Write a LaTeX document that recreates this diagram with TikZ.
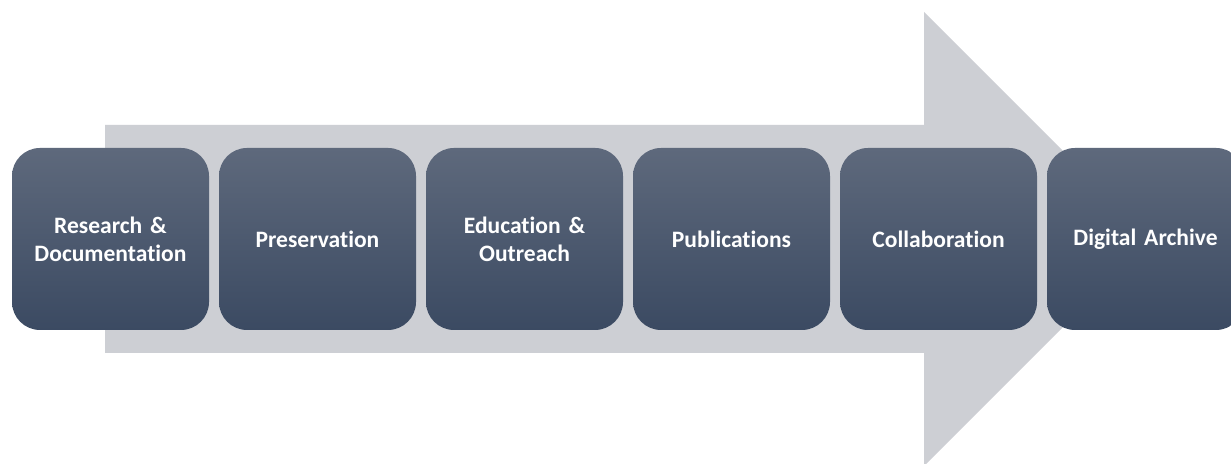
\documentclass[tikz,border=0pt]{standalone}
\usepackage{fontspec}
\setmainfont{Carlito}[Ligatures={NoCommon}]
\usepackage{xcolor}
\usepackage{tikz}
\usetikzlibrary{positioning}

\definecolor{arrowgray}{RGB}{205,207,212}
\definecolor{boxtop}{RGB}{94,105,124}
\definecolor{boxbottom}{RGB}{59,74,98}

\tikzset{
	stage/.style={rectangle, rounded corners=0.56cm, top color=boxtop, bottom color=boxbottom,
		minimum width=3.94cm, minimum height=3.64cm, text width=3.7cm, align=center,
		text=white, font=\fontsize{13.4}{15.8}\selectfont\bfseries, inner sep=0pt, outer sep=0pt},
}

\begin{document}
\begin{tikzpicture}
	\clip (0,0) rectangle (24.62,9.28);
	\fill[white] (0,0) rectangle (24.62,9.28);
	% big arrow behind the stages
	\fill[arrowgray] (2.1,2.22) -- (2.1,6.78) -- (18.48,6.78) -- (18.48,9.04)
		-- (23.02,4.5) -- (18.48,-0.04) -- (18.48,2.22) -- cycle;
	\node[stage] (research) at (2.21,4.5) {Research \&\\Documentation};
	\node[stage, right=0.2cm of research] (preservation) {Preservation};
	\node[stage, right=0.2cm of preservation] (education) {Education \&\\Outreach};
	\node[stage, right=0.2cm of education] (publications) {Publications};
	\node[stage, right=0.2cm of publications] (collaboration) {Collaboration};
	\node[stage, right=0.2cm of collaboration] (archive) {Digital Archive};
\end{tikzpicture}
\end{document}
